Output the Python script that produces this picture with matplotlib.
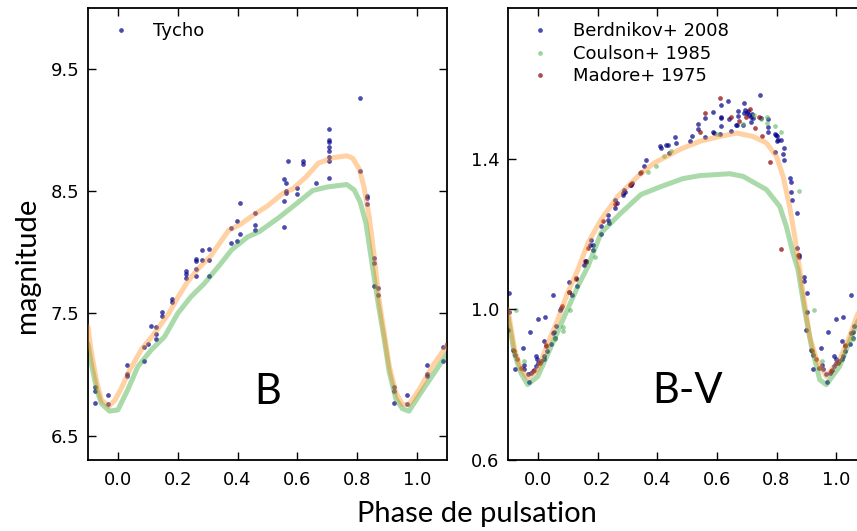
import numpy as np
import matplotlib
matplotlib.use("Agg")
import matplotlib.pyplot as plt

# ---- Tycho B photometry (phase, magnitude) ----
tycho_phase = [0.923, 0.923, 0.923, 0.966, 0.966, 0.032, 0.032, 0.032, 0.086, 0.086,
               0.101, 0.112, 0.128, 0.128, 0.128, 0.149, 0.149, 0.181, 0.181, 0.229,
               0.229, 0.229, 0.261, 0.261, 0.261, 0.261, 0.281, 0.281, 0.303, 0.303,
               0.303, 0.379, 0.379, 0.397, 0.397, 0.407, 0.407, 0.459, 0.459, 0.459,
               0.556, 0.556, 0.556, 0.562, 0.562, 0.562, 0.569, 0.600, 0.600, 0.618,
               0.618, 0.662, 0.706, 0.706, 0.706, 0.706, 0.706, 0.706, 0.706, 0.706,
               0.810, 0.810, 0.831, 0.831, 0.831, 0.856, 0.856, 0.856, 0.871, 0.871]
tycho_mag = [6.894, 6.862, 6.770, 6.835, 6.756, 7.074, 7.006, 6.990, 7.224, 7.107,
             7.253, 7.400, 7.392, 7.335, 7.291, 7.509, 7.482, 7.620, 7.590, 7.845,
             7.820, 7.790, 7.946, 7.933, 7.862, 7.807, 7.940, 8.017, 8.025, 7.940,
             7.807, 8.198, 8.074, 8.256, 8.093, 8.400, 8.153, 8.320, 8.226, 8.185,
             8.598, 8.422, 8.207, 8.565, 8.500, 8.484, 8.750, 8.528, 8.476, 8.750,
             8.720, 8.571, 9.011, 8.919, 8.905, 8.859, 8.832, 8.777, 8.748, 8.609,
             9.266, 8.669, 8.463, 8.446, 8.392, 7.957, 7.913, 7.723, 7.709, 7.647]

# ---- B model curves ----
b_orange_phase = [-0.10, -0.09, -0.07, -0.055, -0.03, -0.01, 0.01, 0.04, 0.08, 0.12,
                  0.17, 0.20, 0.233, 0.27, 0.31, 0.37, 0.41, 0.45, 0.50, 0.55,
                  0.585, 0.63, 0.67, 0.72, 0.765, 0.785, 0.807, 0.823, 0.84, 0.857,
                  0.873, 0.89, 0.907, 0.929, 0.951, 0.973, 1.007, 1.051, 1.10]
b_orange_mag = [7.39, 7.20, 6.93, 6.79, 6.74, 6.79, 6.88, 7.04, 7.21, 7.33,
                7.50, 7.63, 7.76, 7.87, 7.97, 8.18, 8.23, 8.30, 8.38, 8.48,
                8.52, 8.62, 8.73, 8.775, 8.79, 8.77, 8.68, 8.53, 8.29, 7.96,
                7.61, 7.34, 7.07, 6.85, 6.755, 6.755, 6.876, 7.066, 7.24]
b_green_phase = [-0.10, -0.09, -0.07, -0.055, -0.028, 0.0, 0.033, 0.067, 0.111, 0.156,
                 0.20, 0.244, 0.289, 0.344, 0.38, 0.433, 0.473, 0.54, 0.596, 0.651,
                 0.70, 0.765, 0.79, 0.81, 0.829, 0.846, 0.87, 0.89, 0.907, 0.929,
                 0.951, 0.973, 1.007, 1.051, 1.10]
b_green_mag = [7.25, 7.10, 6.87, 6.76, 6.70, 6.71, 6.876, 7.066, 7.20, 7.31,
               7.50, 7.636, 7.745, 7.908, 8.02, 8.125, 8.17, 8.288, 8.397, 8.506,
               8.535, 8.555, 8.51, 8.41, 8.24, 7.962, 7.58, 7.29, 7.02, 6.80,
               6.72, 6.70, 6.83, 6.99, 7.17]

# ---- B-V photometry ----
berd_phase = [0.902, 0.891, 0.892, 0.902, 0.900, 0.916, 0.922, 0.924, 0.949, 0.952,
              0.955, 0.966, 0.969, 0.974, 0.978, 0.986, 0.994, 0.994, 0.998, 0.000,
              0.000, 0.009, 0.019, 0.022, 0.024, 0.020, 0.028, 0.031, 0.045, 0.050,
              0.055, 0.056, 0.050, 0.061, 0.075, 0.078, 0.103, 0.113, 0.106, 0.128,
              0.132, 0.156, 0.158, 0.162, 0.175, 0.179, 0.184, 0.185, 0.211, 0.212,
              0.235, 0.236, 0.237, 0.258, 0.264, 0.260, 0.285, 0.287, 0.289, 0.292,
              0.308, 0.314, 0.312, 0.343, 0.355, 0.361, 0.411, 0.413, 0.431, 0.437,
              0.439, 0.461, 0.463, 0.510, 0.516, 0.537, 0.537, 0.562, 0.562, 0.587,
              0.587, 0.592, 0.612, 0.613, 0.613, 0.614, 0.613, 0.639, 0.641, 0.649,
              0.663, 0.666, 0.671, 0.671, 0.688, 0.690, 0.690, 0.693, 0.700, 0.705,
              0.707, 0.716, 0.716, 0.718, 0.721, 0.744, 0.747, 0.770, 0.772, 0.772,
              0.794, 0.797, 0.800, 0.800, 0.804, 0.814, 0.794, 0.821, 0.825, 0.825,
              0.844, 0.847, 0.847, 0.852, 0.870, 0.870, 0.875, 0.877]
berd_bv = [1.044, 1.086, 1.074, 0.993, 0.945, 0.891, 0.880, 0.842, 0.898, 0.851,
           0.842, 0.827, 0.806, 0.941, 0.831, 0.840, 0.849, 0.875, 0.867, 0.975,
           0.858, 0.862, 0.867, 0.875, 0.980, 0.915, 0.902, 0.889, 0.908, 0.936,
           0.940, 0.925, 1.037, 0.955, 0.999, 1.004, 1.047, 1.037, 1.073, 1.082,
           1.063, 1.118, 1.129, 1.127, 1.172, 1.185, 1.158, 1.172, 1.201, 1.220,
           1.251, 1.238, 1.229, 1.291, 1.282, 1.269, 1.303, 1.309, 1.318, 1.312,
           1.329, 1.336, 1.330, 1.362, 1.380, 1.397, 1.433, 1.427, 1.435, 1.437,
           1.415, 1.457, 1.442, 1.447, 1.459, 1.479, 1.491, 1.457, 1.508, 1.523,
           1.470, 1.468, 1.466, 1.543, 1.508, 1.510, 1.488, 1.554, 1.505, 1.474,
           1.490, 1.490, 1.527, 1.514, 1.490, 1.548, 1.521, 1.530, 1.521, 1.527,
           1.517, 1.510, 1.497, 1.519, 1.508, 1.568, 1.508, 1.483, 1.504, 1.470,
           1.466, 1.462, 1.459, 1.447, 1.450, 1.450, 1.419, 1.412, 1.427, 1.396,
           1.349, 1.337, 1.311, 1.291, 1.256, 1.163, 1.145, 1.140]

coul_phase = [0.927, 0.953, 0.056, 0.084, 0.086, 0.109, 0.190, 0.370, 0.396, 0.422,
              0.445, 0.600, 0.687, 0.724, 0.749, 0.768, 0.768, 0.794, 0.815, 0.877]
coul_bv = [0.997, 0.864, 0.920, 0.953, 0.943, 0.997, 1.140, 1.365, 1.381, 1.406,
           1.421, 1.466, 1.491, 1.517, 1.505, 1.510, 1.496, 1.486, 1.470, 1.315]

mad_phase = [0.545, 0.559, 0.610, 0.649, 0.674, 0.699, 0.712, 0.727, 0.740, 0.753,
             0.777, 0.816, 0.871, 0.920, 0.931, 0.944, 0.983, 0.006, 0.028, 0.081,
             0.104, 0.129, 0.160, 0.168, 0.217, 0.260, 0.313, 0.346]
mad_bv = [1.471, 1.521, 1.561, 1.511, 1.501, 1.511, 1.532, 1.481, 1.511, 1.461,
          1.391, 1.161, 1.145, 0.889, 0.867, 0.845, 0.836, 0.858, 0.904, 1.008,
          1.047, 1.080, 1.125, 1.163, 1.234, 1.280, 1.334, 1.364]

# ---- B-V model curves ----
bv_orange_phase = [-0.10, -0.078, -0.056, -0.034, 0.0, 0.034, 0.067, 0.10, 0.134, 0.168,
                   0.212, 0.268, 0.335, 0.391, 0.48, 0.543, 0.61, 0.666, 0.721, 0.766,
                   0.80, 0.822, 0.844, 0.861, 0.878, 0.889, 0.911, 0.934, 0.967, 1.012,
                   1.045, 1.069, 1.10]
bv_orange = [1.00, 0.893, 0.84, 0.818, 0.84, 0.911, 0.973, 1.044, 1.105, 1.176,
             1.238, 1.30, 1.353, 1.389, 1.426, 1.446, 1.459, 1.468, 1.459, 1.442,
             1.406, 1.353, 1.273, 1.194, 1.105, 1.044, 0.928, 0.867, 0.822, 0.867,
             0.928, 0.981, 1.04]
bv_green_phase = [-0.10, -0.078, -0.056, -0.034, 0.0, 0.045, 0.089, 0.134, 0.168, 0.212,
                  0.279, 0.346, 0.413, 0.486, 0.543, 0.643, 0.688, 0.766, 0.811, 0.833,
                  0.855, 0.872, 0.894, 0.917, 0.945, 0.967, 1.012, 1.056, 1.10]
bv_green = [0.98, 0.88, 0.83, 0.80, 0.822, 0.902, 0.981, 1.061, 1.114, 1.203,
            1.256, 1.305, 1.326, 1.347, 1.355, 1.36, 1.353, 1.318, 1.273, 1.22,
            1.15, 1.105, 1.00, 0.902, 0.813, 0.80, 0.849, 0.937, 1.02]


def wrap(phase, val):
    p = np.asarray(phase)
    v = np.asarray(val)
    return np.concatenate([p - 1, p, p + 1]), np.concatenate([v, v, v])


label_font = ['Lato', 'DejaVu Sans']
tick_size = 13

fig = plt.figure(figsize=(8.57, 5.31), dpi=100)
ax1 = fig.add_axes([88 / 857, 71 / 531, 359 / 857, 452 / 531])
ax2 = fig.add_axes([508 / 857, 71 / 531, 358 / 857, 452 / 531])

curve_orange = dict(color='#ff8c1a', alpha=0.4, lw=3.6, solid_capstyle='round', zorder=3)
curve_green = dict(color='#2ca02c', alpha=0.4, lw=3.6, solid_capstyle='round', zorder=2)
pts = dict(ls='none', marker='o', ms=3.4, mew=0, zorder=1)

# left panel: B
x, y = wrap(tycho_phase, tycho_mag)
ax1.plot(x, y, color='#00008b', alpha=0.7, label='Tycho', **pts)
ax1.plot(b_green_phase, b_green_mag, **curve_green)
ax1.plot(b_orange_phase, b_orange_mag, **curve_orange)
ax1.set_xlim(-0.1, 1.1)
ax1.set_ylim(6.3, 10.0)
ax1.set_yticks([6.5, 7.5, 8.5, 9.5])
ax1.text(0.5, 0.15, 'B', transform=ax1.transAxes, ha='center', va='center',
         fontsize=30, family=label_font)

# right panel: B-V
x, y = wrap(berd_phase, berd_bv)
ax2.plot(x, y, color='#00008b', alpha=0.7, label='Berdnikov+ 2008', **pts)
x, y = wrap(coul_phase, coul_bv)
ax2.plot(x, y, color='#5cb85c', alpha=0.6, label='Coulson+ 1985', **pts)
x, y = wrap(mad_phase, mad_bv)
ax2.plot(x, y, color='#8b0000', alpha=0.7, label='Madore+ 1975', **pts)
ax2.plot(bv_green_phase, bv_green, **curve_green)
ax2.plot(bv_orange_phase, bv_orange, **curve_orange)
ax2.set_xlim(-0.1, 1.1)
ax2.set_ylim(0.6, 1.8)
ax2.set_yticks([0.6, 1.0, 1.4])
ax2.text(0.5, 0.153, 'B-V', transform=ax2.transAxes, ha='center', va='center',
         fontsize=30, family=label_font)

for ax in (ax1, ax2):
    ax.set_xticks([0.0, 0.2, 0.4, 0.6, 0.8, 1.0])
    ax.tick_params(direction='in', length=6, width=1, top=True, right=True,
                   labelsize=tick_size)
    ax.tick_params(axis='x', pad=8)
    ax.tick_params(axis='y', pad=6)
    for s in ax.spines.values():
        s.set_linewidth(1.3)
    ax.legend(loc='upper left', frameon=False, numpoints=1, fontsize=13,
              labelspacing=0.25, handletextpad=0.8, borderaxespad=0.4)

fig.text(27 / 857, 0.5, 'magnitude', rotation=90, ha='center', va='center',
         fontsize=21, family=label_font)
fig.text(477 / 857, 9 / 531, 'Phase de pulsation', ha='center', va='baseline',
         fontsize=21, family=label_font)

fig.savefig('out.png', dpi=100)
